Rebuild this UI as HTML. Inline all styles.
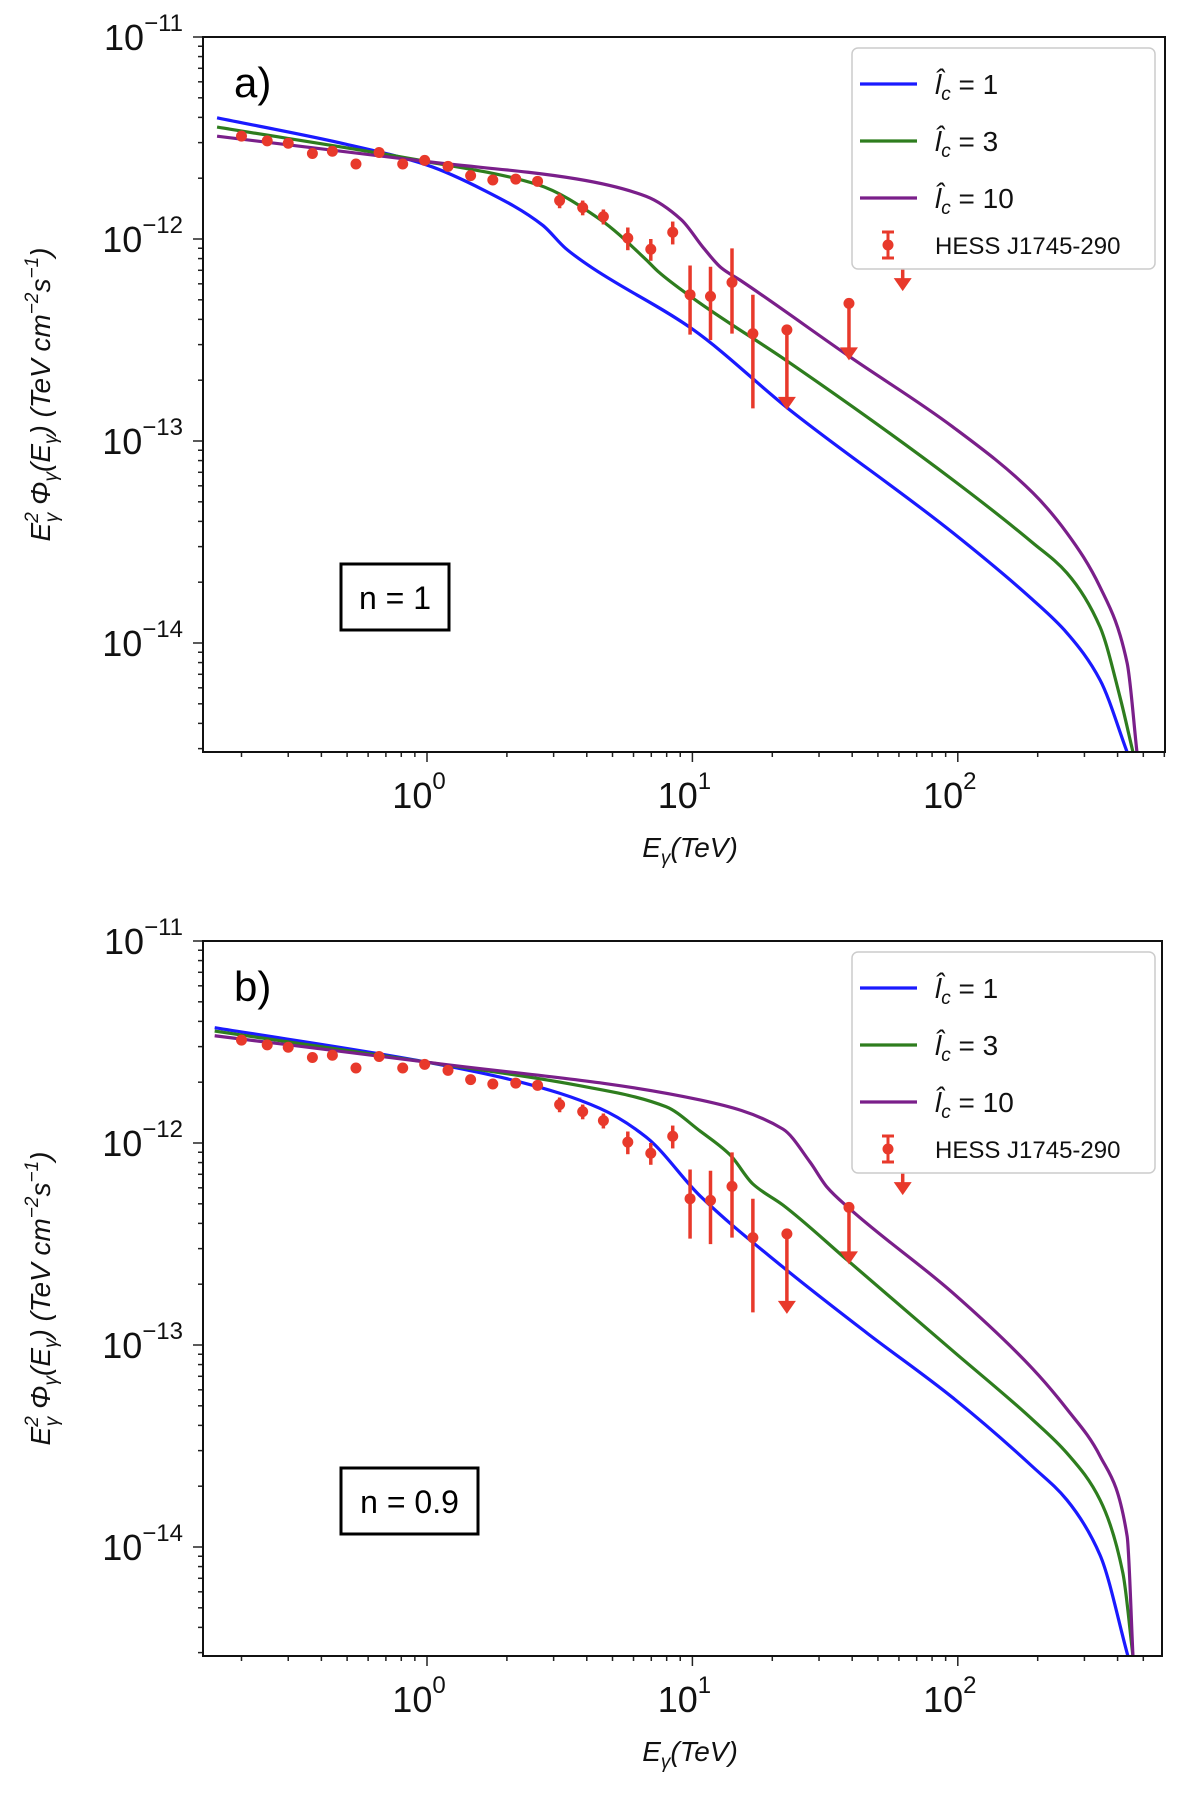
<!DOCTYPE html>
<html><head><meta charset="utf-8">
<style>
html,body{margin:0;padding:0;background:#fff;}
svg{display:block;}
text{font-family:"Liberation Sans",sans-serif;}
</style></head>
<body>
<svg id="fig" width="1200" height="1799" viewBox="0 0 1200 1799" xmlns="http://www.w3.org/2000/svg"></svg>
<script>
// ---- data (shared points) ----
const energies = [0.20,0.25,0.30,0.37,0.44,0.54,0.66,0.81,0.98,1.20,1.46,1.77,2.16,2.61,3.16,3.86,4.62,5.71,6.97,8.43,9.8,11.7,14.1,16.9];
const fluxes = [3.23,3.06,2.98,2.65,2.72,2.35,2.68,2.35,2.45,2.29,2.06,1.96,1.98,1.93,1.55,1.43,1.29,1.01,0.89,1.08,0.53,0.52,0.61,0.34];
const errLo = [0,0,0,0,0,0,0,0,0,0,0,0,0,0,0.13,0.12,0.11,0.13,0.11,0.14,0.194,0.204,0.27,0.195];
const errHi = [0,0,0,0,0,0,0,0,0,0,0,0,0,0,0.13,0.12,0.11,0.13,0.11,0.14,0.209,0.209,0.289,0.19];
const ulEnergies = [22.7,38.9,62];
const ulFluxes = [0.355,0.48,0.76];
// ---- curves (log10 E, log10 flux) ----
const aBlueX=[-0.791,-0.304,0,0.217,0.435,0.522,0.609,1.0,1.368,1.982,2.283,2.411,2.536,2.638];
const aBlueY=[-11.4,-11.531,-11.634,-11.76,-11.931,-12.046,-12.131,-12.446,-12.847,-13.455,-13.787,-13.95,-14.183,-14.54];
const aGreenX=[-0.791,0,0.417,0.652,0.826,0.870,1.0,1.368,1.982,2.283,2.411,2.536,2.611,2.66];
const aGreenY=[-11.446,-11.617,-11.731,-11.903,-12.103,-12.16,-12.291,-12.614,-13.193,-13.505,-13.653,-13.921,-14.267,-14.54];
const aPurpleX=[-0.791,0,0.565,0.826,0.957,1.043,1.109,1.179,1.594,1.982,2.283,2.411,2.536,2.638,2.675];
const aPurpleY=[-11.491,-11.617,-11.703,-11.789,-11.903,-12.046,-12.143,-12.203,-12.584,-12.931,-13.257,-13.455,-13.723,-14.099,-14.54];
const bBlueX=[-0.800,0,0.348,0.652,0.826,1.029,1.341,1.658,1.982,2.283,2.411,2.536,2.641];
const bBlueY=[-11.429,-11.6,-11.697,-11.829,-11.971,-12.262,-12.614,-12.941,-13.262,-13.604,-13.767,-14.04,-14.54];
const bGreenX=[-0.800,0,0.565,0.9,1.029,1.142,1.228,1.341,1.583,1.982,2.283,2.411,2.536,2.622,2.66];
const bGreenY=[-11.446,-11.6,-11.714,-11.82,-11.941,-12.059,-12.203,-12.307,-12.579,-13.03,-13.371,-13.535,-13.767,-14.129,-14.54];
const bPurpleX=[-0.800,0,1.029,1.341,1.443,1.507,1.594,1.982,2.283,2.411,2.536,2.638,2.66];
const bPurpleY=[-11.469,-11.6,-11.787,-11.931,-12.094,-12.218,-12.327,-12.743,-13.119,-13.317,-13.55,-13.946,-14.54];
const yTicks=[-11,-12,-13,-14];
const xTicks=[0,1,2];

const NS="http://www.w3.org/2000/svg";
const svg=document.getElementById('fig');
function el(t,a,p){const e=document.createElementNS(NS,t);for(const k in a)e.setAttribute(k,a[k]);(p||svg).appendChild(e);return e;}
const arrowLen=[80,57,28];

function monotonePath(pts){
  const n=pts.length,dx=[],dy=[],m=[],t=new Array(n);
  for(let i=0;i<n-1;i++){dx.push(pts[i+1][0]-pts[i][0]);dy.push(pts[i+1][1]-pts[i][1]);m.push(dy[i]/dx[i]);}
  t[0]=m[0];t[n-1]=m[n-2];
  for(let i=1;i<n-1;i++){if(m[i-1]*m[i]<=0)t[i]=0;else{const w1=2*dx[i]+dx[i-1],w2=dx[i]+2*dx[i-1];t[i]=(w1+w2)/(w1/m[i-1]+w2/m[i]);}}
  let d='M'+pts[0][0]+','+pts[0][1];
  for(let i=0;i<n-1;i++){const h=dx[i]/3;
    d+=' C'+(pts[i][0]+h)+','+(pts[i][1]+t[i]*h)+' '+(pts[i+1][0]-h)+','+(pts[i+1][1]-t[i+1]*h)+' '+pts[i+1][0]+','+pts[i+1][1];}
  return d;
}

function panel(oy,R,label,nText,nW,curves,key){
  const L=203,T=37+oy,B=752+oy;
  const X0=427,XD=265.4,Y12=239+oy,YD=202;
  const sx=l=>X0+l*XD, sy=l=>Y12-(l+12)*YD;
  const g=el('g',{});
  
  
  const clipId='clip'+key;
  const cp=el('clipPath',{id:clipId},g);el('rect',{x:L,y:T,width:R-L,height:B-T},cp);
  for(let d=-1;d<=2;d++){for(let m=1;m<10;m++){const lv=d+Math.log10(m);const x=sx(lv);if(x<L||x>R)continue;
    el('line',{x1:x,x2:x,y1:B,y2:B+(m==1?10:5),stroke:'#222','stroke-width':1.5},g);}}
  for(let d=-15;d<=-11;d++){for(let m=1;m<10;m++){const lv=d+Math.log10(m);const y=sy(lv);if(y<T-1||y>B)continue;
    el('line',{x1:L,x2:L-(m==1?10:5),y1:y,y2:y,stroke:'#222','stroke-width':1.5},g);}}
  yTicks.forEach(v=>{const t=el('text',{x:L-20,y:sy(v)+13,'text-anchor':'end','font-size':36,fill:'#111'},g);
    
    t.innerHTML='10<tspan dy="-19" font-size="24">−'+(-v)+'</tspan>';});
  xTicks.forEach(v=>{const t=el('text',{x:sx(v)-8,y:B+56,'text-anchor':'middle','font-size':36,fill:'#111'},g);
    
    t.innerHTML='10<tspan dy="-19" font-size="24">'+v+'</tspan>';});
  const xt=el('text',{x:690,y:B+105,'text-anchor':'middle','font-size':28,'font-style':'italic',fill:'#111'},g);
  
  xt.innerHTML='E<tspan dy="7" font-size="19">γ</tspan><tspan dy="-7">(TeV)</tspan>';
  const cy=(T+B)/2;
  const yt=el('text',{x:0,y:0,transform:'translate(50,'+cy+') rotate(-90)','text-anchor':'middle','font-size':28,'font-style':'italic',fill:'#111'},g);
  
  yt.innerHTML='E<tspan dy="-12" font-size="19">2</tspan><tspan dx="-10" dy="20" font-size="19">γ</tspan><tspan dy="-8">  Φ</tspan><tspan dy="7" font-size="19">γ</tspan><tspan dy="-7">(E</tspan><tspan dy="7" font-size="19">γ</tspan><tspan dy="-7">) (TeV cm</tspan><tspan dy="-12" font-size="19">−2</tspan><tspan dy="12">s</tspan><tspan dy="-12" font-size="19">−1</tspan><tspan dy="12">)</tspan>';
  const cg=el('g',{'clip-path':'url(#'+clipId+')'},g);
  curves.forEach(c=>{
    const pts=c.x.map((v,i)=>[sx(v),sy(c.y[i])]);
    const p=el('path',{d:monotonePath(pts),fill:'none',stroke:c.col,'stroke-width':3.2},cg);
    
  });
  const red='#e8392b';
  energies.forEach((e,i)=>{const x=sx(Math.log10(e)),y=sy(Math.log10(fluxes[i]*1e-12));
    if(errLo[i]>0){const l=el('line',{x1:x,x2:x,y1:sy(Math.log10((fluxes[i]+errHi[i])*1e-12)),y2:sy(Math.log10((fluxes[i]-errLo[i])*1e-12)),stroke:red,'stroke-width':3.5},g);
      }
    const c=el('circle',{cx:x,cy:y,r:5.5,fill:red},g);
    });
  ulEnergies.forEach((e,i)=>{const x=sx(Math.log10(e)),y=sy(Math.log10(ulFluxes[i]*1e-12));
    const a=el('g',{},g);
    
    const len=arrowLen[i];
    el('line',{x1:x,x2:x,y1:y,y2:y+len-10,stroke:red,'stroke-width':3.5},a);
    const ty=y+len;
    el('polygon',{points:(x-9)+','+(ty-13)+' '+(x+9)+','+(ty-13)+' '+x+','+ty,fill:red},a);
    el('circle',{cx:x,cy:y,r:5.5,fill:i==2?'#f6c9c2':red},a);});
  const fr=el('rect',{x:L,y:T,width:R-L,height:B-T,fill:'none',stroke:'#111','stroke-width':2},g);
  
  const pl=el('text',{x:234,y:T+60,'font-size':42,fill:'#000'},g);
  pl.textContent=label;
  const nb=el('g',{},g);
  el('rect',{x:341,y:T+527,width:nW,height:66,fill:'#fff',stroke:'#000','stroke-width':3},nb);
  const nt=el('text',{x:341+nW/2,y:T+572,'text-anchor':'middle','font-size':32,fill:'#000'},nb);nt.textContent=nText;
  const lg=el('g',{},g);
  el('rect',{x:852,y:T+11,width:303,height:221,rx:6,fill:'#fff',stroke:'#ccc','stroke-width':1.5},lg);
  const items=[['#1a1aff','1'],['#2e7d1e','3'],['#7a1f8a','10']];
  items.forEach((it,k)=>{const yy=T+47+k*57;
    const e=el('g',{},lg);
    el('line',{x1:860,x2:917,y1:yy,y2:yy,stroke:it[0],'stroke-width':3.2},e);
    const t=el('text',{x:935,y:yy+10,'font-size':28,fill:'#111'},e);
    t.innerHTML='<tspan font-style="italic">l̂</tspan><tspan dy="6" font-size="19" font-style="italic">c</tspan><tspan dy="-6"> = '+it[1]+'</tspan>';});
  const he=el('g',{},lg);
  const hy=T+208;
  el('line',{x1:888,x2:888,y1:hy-13,y2:hy+13,stroke:red,'stroke-width':3},he);
  el('line',{x1:882,x2:894,y1:hy-13,y2:hy-13,stroke:red,'stroke-width':3},he);
  el('line',{x1:882,x2:894,y1:hy+13,y2:hy+13,stroke:red,'stroke-width':3},he);
  el('circle',{cx:888,cy:hy,r:5.5,fill:red},he);
  const ht=el('text',{x:935,y:hy+9,'font-size':24,fill:'#111'},he);ht.textContent='HESS J1745-290';
}
panel(0,1165,'a)','n = 1',108,[
 {x:aBlueX,y:aBlueY,col:'#1a1aff',name:'curve-lc-1'},
 {x:aGreenX,y:aGreenY,col:'#2e7d1e',name:'curve-lc-3'},
 {x:aPurpleX,y:aPurpleY,col:'#7a1f8a',name:'curve-lc-10'}],'a');
panel(904,1162,'b)','n = 0.9',137,[
 {x:bBlueX,y:bBlueY,col:'#1a1aff',name:'curve-lc-1'},
 {x:bGreenX,y:bGreenY,col:'#2e7d1e',name:'curve-lc-3'},
 {x:bPurpleX,y:bPurpleY,col:'#7a1f8a',name:'curve-lc-10'}],'b');
</script>
</body></html>
